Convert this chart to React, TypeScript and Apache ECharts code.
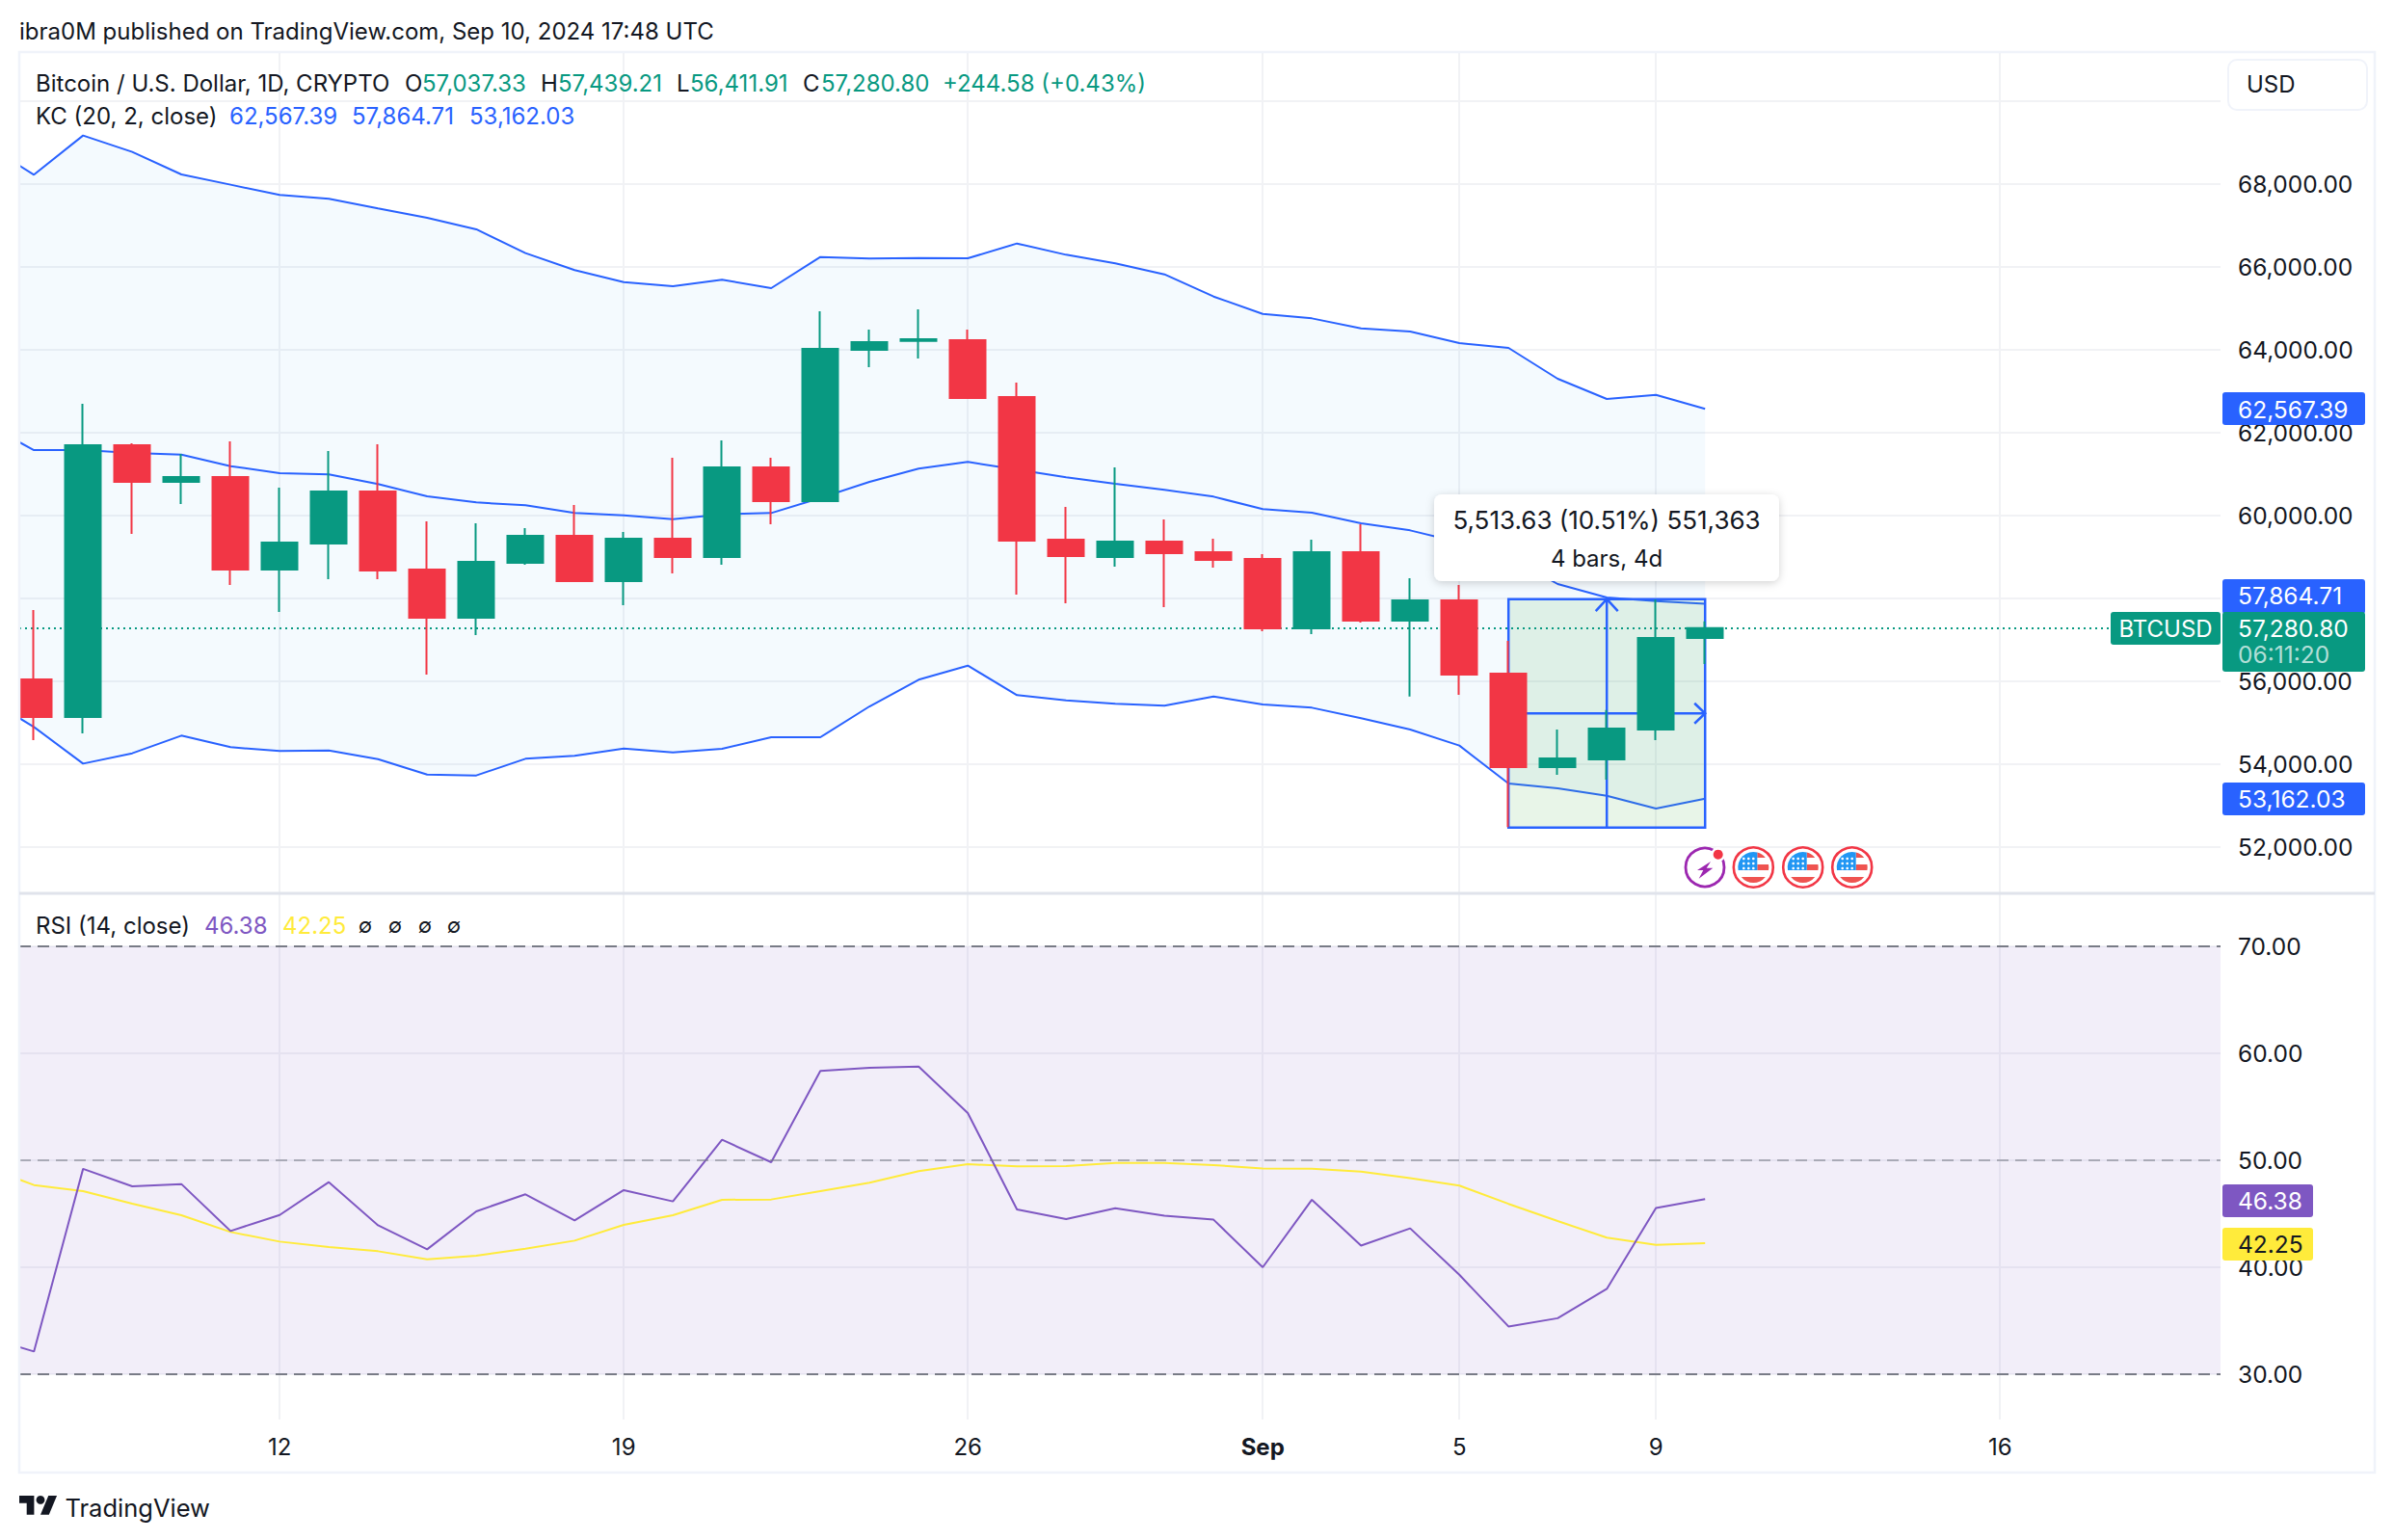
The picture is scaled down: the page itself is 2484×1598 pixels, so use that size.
import React, { useEffect, useRef } from "react";
import * as echarts from "echarts";

const FONT = "Inter, 'DejaVu Sans', sans-serif";
const INK = "#131722";
const GREEN = "#089981";
const RED = "#F23645";
const BLUE = "#2962FF";
const PURPLE = "#7E57C2";
const YELLOW = "#FFEB3B";
const GRID = "#f1f2f5";

// candles, index 0 = Aug 7
const opens = [56040,55133,61691,60807,60923,58691,59319,60574,58691,57528,58853,59505,58412,59435,58993,61156,60342,63993,64210,64226,62853,59412,58993,59365,59109,58947,57272,59109,57458,57947,56179,53923,54109,54830,57037.33];
const closes = [55133,61691,60807,60923,58691,59342,60574,58667,57528,58877,59505,58412,59435,58993,61156,60342,64016,64179,64249,62830,59388,59016,59365,59086,58923,57272,59109,57458,57947,56156,53923,54133,54853,57040,57280.8];
const lows = [54574,54737,59551,60272,58319,57667,58458,58458,56156,57109,58807,58412,57830,58598,58807,59784,60342,63574,63784,62830,58086,57877,58760,57784,58737,57202,57133,57412,55629,55667,52474,53737,53621,54574,56411.91];
const highs = [57714,62691,61737,61481,61784,60667,61551,61714,59853,59807,59691,60249,59598,61388,61807,61388,64923,64481,64970,64481,63202,60202,61156,59900,59435,59063,59412,59784,58481,58319,56970,54830,55303,57970,57439.21];

// Keltner channel and RSI, index -1 = Aug 6
const kcUpper = [68962,68218,69164,68768,68226,67978,67730,67638,67405,67180,66901,66327,65916,65629,65528,65684,65482,66233,66195,66210,66202,66559,66287,66078,65814,65279,64860,64752,64512,64434,64155,64039,63295,62806,62907,62567.39];
const kcMiddle = [62217,61574,61574,61504,61466,61187,61016,60985,60753,60458,60311,60241,60055,60001,59908,60024,60055,60419,60807,61125,61287,61101,60915,60760,60613,60450,60148,60063,59807,59636,59350,59000,58342,58016,57932,57864.71];
const kcLower = [55613,54892,54008,54257,54683,54404,54311,54326,54117,53745,53722,54125,54195,54373,54280,54365,54644,54644,55388,56032,56373,55660,55536,55450,55404,55629,55435,55357,55102,54830,54443,53528,53412,53233,52923,53162.03];
const rsi = [33.5,32.13,49.2,47.57,47.78,43.39,44.89,47.96,43.93,41.68,45.23,46.82,44.38,47.21,46.16,51.92,49.82,58.35,58.65,58.76,54.42,45.41,44.51,45.51,44.83,44.45,40.0,46.31,42.03,43.64,39.3,34.47,35.24,37.98,45.54,46.38];
const rsiMa = [49.4,47.69,47.12,45.95,44.86,43.3,42.4,41.89,41.5,40.75,41.08,41.74,42.49,43.96,44.86,46.31,46.34,47.12,47.9,48.98,49.63,49.43,49.47,49.76,49.76,49.56,49.24,49.21,48.95,48.34,47.63,45.93,44.32,42.77,42.1,42.25];

const xTickIndex = [5, 12, 19, 25, 29, 33, 40];
const xTickLabels = ["12", "19", "26", "Sep", "5", "9", "16"];
const priceLabelTicks = [52000, 54000, 56000, 60000, 62000, 64000, 66000, 68000];
const priceGridTicks = [52000, 54000, 56000, 58000, 60000, 62000, 64000, 66000, 68000, 70000];
const rsiTicks = [30, 40, 50, 60, 70];
const lastPrice = 57280.8;
const rangeBox = [[30, 34, 57977, 52463, 32, 55220]];

echarts.graphic.registerShape("tvlogo", echarts.graphic.extendPath("M14 22H7V11H0V4h14v18ZM28 22h-8l7.5-18h8L28 22Z", {}));
echarts.graphic.registerShape("usCanton", echarts.graphic.extendPath("M4 3H-15.7A16 16 0 0 1 4 -15.5Z", {}));
echarts.graphic.registerShape("usStripes", echarts.graphic.extendPath("M4 -15.5A16 16 0 0 1 12.5 -10H4ZM4 -3H15.7A16 16 0 0 1 15.7 3H4ZM-12.5 10H12.5A16 16 0 0 1 -12.5 10Z", {}));

const TOP = 500;
const txt = (text: string, x: number, y: number, fill: string, fontSize = 24, align = "left", extra: any = {}) => ({
  type: "text", x, y, z: TOP + 2, silent: true,
  style: { text, fill, fontSize, fontFamily: FONT, align, verticalAlign: "middle", ...extra },
});
const box = (x: number, y: number, width: number, height: number, fill: string, r = 3, extra: any = {}) => ({
  type: "rect", z: TOP, silent: true,
  shape: { x, y, width, height, r },
  style: { fill, ...extra },
});

function flag(cx: number, cy: number) {
  const dots: any[] = [];
  for (const dx of [-10, -5, 0]) for (const dy of [-9, -4, 1]) {
    dots.push({ type: "circle", z: TOP + 2, silent: true, shape: { cx: cx + dx, cy: cy + dy, r: 1.3 }, style: { fill: "#fff" } });
  }
  return [
    { type: "circle", z: TOP, silent: true, shape: { cx, cy, r: 20.5 }, style: { fill: "#fff", stroke: RED, lineWidth: 2.6 } },
    { type: "usStripes", z: TOP + 1, silent: true, x: cx, y: cy, style: { fill: "#EF5350" } },
    { type: "usCanton", z: TOP + 1, silent: true, x: cx, y: cy, style: { fill: "#2196F3" } },
    ...dots,
  ];
}

const fmt = (v: number) => v.toLocaleString("en-US", { minimumFractionDigits: 2, maximumFractionDigits: 2 });
const kcX = (i: number) => i - 1;

export default function App() {
  const ref = useRef<HTMLDivElement>(null);
  useEffect(() => {
    const chart = echarts.init(ref.current!, undefined, { renderer: "svg" });
    const line = (name: string, values: number[], color: string, axis: number, z: number, extra: any = {}) => ({
      type: "line", name, xAxisIndex: axis, yAxisIndex: axis, z,
      data: values.map((v, i) => [kcX(i), v]),
      symbol: "none", showSymbol: false, silent: true,
      lineStyle: { color, width: 2 }, ...extra,
    });
    const mlBase = { silent: true, symbol: "none", label: { show: false } };
    const xAxisBase = {
      type: "value", min: -0.298, max: 44.486,
      axisLine: { show: false }, axisTick: { show: false, customValues: xTickIndex },
      splitLine: { show: true, lineStyle: { color: GRID, width: 2 } },
    };
    const yAxisBase = {
      type: "value", position: "right",
      axisLine: { show: false }, axisTick: { show: false },
      splitLine: { show: true, lineStyle: { color: GRID, width: 2 } },
    };
    chart.setOption({
      animation: false,
      backgroundColor: "#fff",
      grid: [
        { left: 20, right: 180, top: 54, height: 873 },
        { left: 20, right: 180, top: 927, height: 546 },
      ],
      xAxis: [
        { ...xAxisBase, gridIndex: 0, axisLabel: { show: false } },
        {
          ...xAxisBase, gridIndex: 1,
          axisLabel: {
            show: true, customValues: xTickIndex, margin: 16, color: INK, fontSize: 24, fontFamily: FONT,
            formatter: (v: number) => {
              const s = xTickLabels[xTickIndex.indexOf(v)];
              return s === "Sep" ? "{b|Sep}" : s;
            },
            rich: { b: { fontWeight: 700, fontSize: 24, fontFamily: FONT, color: INK } },
          },
        },
      ],
      yAxis: [
        {
          ...yAxisBase, gridIndex: 0, min: 50877, max: 71179,
          axisTick: { show: false, customValues: priceGridTicks },
          axisLabel: { customValues: priceLabelTicks, margin: 18, color: INK, fontSize: 24.5, fontFamily: FONT, formatter: fmt },
        },
        {
          ...yAxisBase, gridIndex: 1, min: 25.77, max: 74.95,
          axisTick: { show: false, customValues: rsiTicks },
          axisLabel: { customValues: rsiTicks, margin: 18, color: INK, fontSize: 24.5, fontFamily: FONT, formatter: fmt },
        },
      ],
      series: [
        {
          type: "custom", xAxisIndex: 0, yAxisIndex: 0, z: 2, silent: true, clip: true,
          encode: { x: 0, y: [1, 2] },
          data: kcUpper.map((v, i) => [kcX(i), kcLower[i], v]),
          renderItem: (p: any, api: any) => {
            if (p.dataIndex !== 0) return null;
            const top = kcUpper.map((v, i) => api.coord([kcX(i), v]));
            const bottom = kcLower.map((v, i) => api.coord([kcX(i), v])).reverse();
            return { type: "polygon", shape: { points: [...top, ...bottom] }, style: { fill: "rgba(33,150,243,0.05)" } };
          },
        },
        line("Upper", kcUpper, BLUE, 0, 3),
        line("Middle", kcMiddle, BLUE, 0, 3),
        line("Lower", kcLower, BLUE, 0, 3, {
          markLine: {
            ...mlBase,
            lineStyle: { color: GREEN, width: 2, type: [2, 4], opacity: 1 },
            data: [{ yAxis: lastPrice }],
          },
        }),
        {
          type: "custom", xAxisIndex: 0, yAxisIndex: 0, z: 4, silent: true,
          encode: { x: [0, 1, 4], y: [2, 3, 5] },
          data: rangeBox,
          renderItem: (_p: any, api: any) => {
            const a = api.coord([api.value(0), api.value(2)]);
            const b = api.coord([api.value(1), api.value(3)]);
            const mid = api.coord([api.value(4), api.value(5)]);
            const stroke = { stroke: BLUE, lineWidth: 2.5, fill: "none" };
            return {
              type: "group",
              children: [
                { type: "rect", shape: { x: a[0], y: a[1], width: b[0] - a[0], height: b[1] - a[1] }, style: { fill: "rgba(76,175,80,0.13)", stroke: BLUE, lineWidth: 2.5 } },
                { type: "line", shape: { x1: mid[0], y1: b[1], x2: mid[0], y2: a[1] }, style: stroke },
                { type: "line", shape: { x1: a[0], y1: mid[1], x2: b[0], y2: mid[1] }, style: stroke },
                { type: "polyline", shape: { points: [[mid[0] - 11.5, a[1] + 12.5], [mid[0], a[1]], [mid[0] + 11.5, a[1] + 12.5]] }, style: stroke },
                { type: "polyline", shape: { points: [[b[0] - 11, mid[1] - 10.5], [b[0], mid[1]], [b[0] - 11, mid[1] + 10.5]] }, style: stroke },
              ],
            };
          },
        },
        {
          type: "candlestick", xAxisIndex: 0, yAxisIndex: 0, z: 5, silent: true,
          barWidth: 38,
          itemStyle: { color: GREEN, color0: RED, borderColor: GREEN, borderColor0: RED, borderWidth: 2 },
          data: opens.map((o, i) => [i, o, closes[i], lows[i], highs[i]]),
        },
        line("RSI MA", rsiMa, YELLOW, 1, 3),
        line("RSI", rsi, PURPLE, 1, 4, {
          markArea: {
            silent: true, label: { show: false },
            itemStyle: { color: "rgba(126,87,194,0.1)" },
            data: [[{ yAxis: 70 }, { yAxis: 30 }]],
          },
          markLine: {
            ...mlBase,
            data: [
              { yAxis: 70, lineStyle: { color: "#787B86", width: 2, type: [12, 7] } },
              { yAxis: 50, lineStyle: { color: "#787B86", width: 2, type: [12, 7], opacity: 0.55 } },
              { yAxis: 30, lineStyle: { color: "#787B86", width: 2, type: [12, 7] } },
            ],
          },
        }),
      ],
      graphic: {
        elements: [
          // left margin mask, keeps the partly visible first candle inside the frame
          { type: "rect", z: 20, silent: true, shape: { x: 0, y: 54, width: 19, height: 873 }, style: { fill: "#fff" } },
          // frame
          { type: "rect", z: 30, silent: true, shape: { x: 20, y: 54, width: 2444, height: 1474 }, style: { fill: "none", stroke: "#F0F3FA", lineWidth: 2.5 } },
          { type: "line", z: 30, silent: true, shape: { x1: 20, y1: 927, x2: 2464, y2: 927 }, style: { stroke: "#E0E3EB", lineWidth: 3 } },
          // header
          txt("ibra0M published on TradingView.com, Sep 10, 2024 17:48 UTC", 20, 32, INK),
          txt("Bitcoin / U.S. Dollar, 1D, CRYPTO", 37, 86, INK),
          txt("O", 420, 86, INK), txt("57,037.33", 438, 86, GREEN),
          txt("H", 561, 86, INK), txt("57,439.21", 579, 86, GREEN),
          txt("L", 702, 86, INK), txt("56,411.91", 716, 86, GREEN),
          txt("C", 833, 86, INK), txt("57,280.80", 852, 86, GREEN),
          txt("+244.58 (+0.43%)", 978, 86, GREEN),
          txt("KC (20, 2, close)", 37, 120, INK),
          txt("62,567.39", 238, 120, BLUE), txt("57,864.71", 365, 120, BLUE), txt("53,162.03", 487, 120, BLUE),
          txt("RSI (14, close)", 37, 960, INK),
          txt("46.38", 212, 960, PURPLE), txt("42.25", 293, 960, YELLOW),
          txt("∅", 379, 960, INK, 21, "center"), txt("∅", 410, 960, INK, 21, "center"),
          txt("∅", 441, 960, INK, 21, "center"), txt("∅", 471, 960, INK, 21, "center"),
          // USD button
          box(2312, 62, 144, 52, "#fff", 9, { stroke: "#F0F3FA", lineWidth: 2 }),
          txt("USD", 2331, 87.5, INK, 24),
          // tooltip
          box(1488, 513, 358, 90, "#fff", 8, { shadowBlur: 8, shadowColor: "rgba(0,0,0,0.18)", shadowOffsetY: 2 }),
          txt("5,513.63 (10.51%) 551,363", 1667, 539, INK, 26, "center"),
          txt("4 bars, 4d", 1667, 579, INK, 24, "center"),
          // price tags
          box(2306, 407, 148, 34, BLUE), txt("62,567.39", 2322, 424.5, "#fff", 24.5),
          box(2306, 601, 148, 36, BLUE), txt("57,864.71", 2322, 617.5, "#fff", 24.5),
          box(2306, 635, 148, 62, GREEN), txt("57,280.80", 2322, 651.5, "#fff", 24.5),
          txt("06:11:20", 2322, 679, "rgba(255,255,255,0.7)", 24.5),
          box(2190, 635, 114, 34, GREEN), txt("BTCUSD", 2247, 652, "#fff", 24, "center"),
          box(2306, 812, 148, 34, BLUE), txt("53,162.03", 2322, 829, "#fff", 24.5),
          box(2306, 1229, 94, 34, PURPLE), txt("46.38", 2322, 1246, "#fff", 24.5),
          box(2306, 1274, 94, 34, YELLOW), txt("42.25", 2322, 1291, INK, 24.5),
          // event icons
          { type: "circle", z: TOP, silent: true, shape: { cx: 1769, cy: 900, r: 20 }, style: { fill: "#fff", stroke: "#9C27B0", lineWidth: 2.8 } },
          { type: "polygon", z: TOP + 1, silent: true, shape: { points: [[1775, 894], [1761, 903], [1767.3, 903], [1762.7, 911.7], [1777.3, 900.7], [1770.7, 900.7]] }, style: { fill: "#9C27B0" } },
          { type: "circle", z: TOP + 1, silent: true, shape: { cx: 1782.7, cy: 886.7, r: 7.5 }, style: { fill: "#fff" } },
          { type: "circle", z: TOP + 2, silent: true, shape: { cx: 1782.7, cy: 886.7, r: 5 }, style: { fill: RED } },
          ...flag(1819.3, 900), ...flag(1870.7, 900), ...flag(1921.7, 900),
          // logo
          { type: "tvlogo", z: TOP, silent: true, x: 20, y: 1547.6, scaleX: 1.1, scaleY: 1.1, style: { fill: INK } },
          { type: "circle", z: TOP, silent: true, shape: { cx: 42, cy: 1556.4, r: 4.4 }, style: { fill: INK } },
          txt("TradingView", 67.5, 1564, INK, 25.5),
        ],
      },
    });
    return () => chart.dispose();
  }, []);
  return <div ref={ref} style={{ position: "absolute", left: 0, top: 0, width: 2484, height: 1598 }} />;
}
